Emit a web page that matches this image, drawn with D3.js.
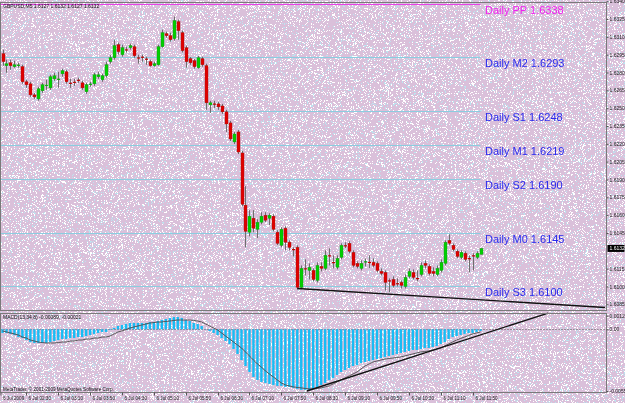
<!DOCTYPE html>
<html><head><meta charset="utf-8">
<script src="https://cdn.jsdelivr.net/npm/d3@7"></script>
<style>
body{margin:0;background:#dac0da;overflow:hidden}
#wrap{position:relative;width:625px;height:403px}
#bg,#c{position:absolute;left:0;top:0}
</style>
</head><body><div id="wrap"><canvas id="bg" width="625" height="403"></canvas><svg id="c" width="625" height="403"></svg></div>
<script>
// ---------- DATA ----------
const symbolTitle = "GBPUSD,M5  1.6127 1.6132 1.6127 1.6132";
const opens = [1.62958,1.62857,1.62882,1.62849,1.62857,1.62849,1.62722,1.62705,1.62612,1.62578,
1.62646,1.62688,1.62671,1.62747,1.62739,1.62789,1.62806,1.62713,1.62722,1.62739,
1.62713,1.62638,1.62697,1.62705,1.62764,1.62739,1.62773,1.62891,1.62924,1.63034,
1.62950,1.62992,1.63009,1.63017,1.62924,1.62933,1.62916,1.62891,1.62857,1.62865,
1.63017,1.63127,1.63110,1.63085,1.63228,1.63135,1.63009,1.62916,1.62899,1.62840,
1.62916,1.62857,1.62528,1.62536,1.62536,1.62519,1.62469,1.62376,1.62216,1.62300,
1.62123,1.61684,1.61456,1.61574,1.61481,1.61540,1.61599,1.61574,1.61591,1.61456,
1.61346,1.61490,1.61372,1.61312,1.61329,1.60992,1.61152,1.61135,1.61135,1.61051,
1.61169,1.61152,1.61262,1.61203,1.61161,1.61245,1.61346,1.61363,1.61287,1.61194,
1.61152,1.61203,1.61203,1.61203,1.61194,1.61127,1.61118,1.61051,1.61059,1.61025,
1.61034,1.61000,1.61085,1.61118,1.61068,1.61101,1.61194,1.61169,1.61127,1.61101,
1.61135,1.61194,1.61388,1.61346,1.61296,1.61245,1.61279,1.61236,1.61262,1.61245,
1.61270];
const highs = [1.62992,1.62908,1.62908,1.62899,1.62882,1.62865,1.62739,1.62722,1.62629,1.62680,
1.62713,1.62739,1.62781,1.62798,1.62806,1.62832,1.62823,1.62747,1.62747,1.62756,
1.62730,1.62713,1.62722,1.62798,1.62806,1.62789,1.62891,1.62950,1.63076,1.63051,
1.63034,1.63017,1.63043,1.63034,1.62950,1.62950,1.62933,1.62908,1.62891,1.63034,
1.63161,1.63144,1.63135,1.63271,1.63245,1.63152,1.63026,1.62933,1.62916,1.62941,
1.62933,1.62874,1.62562,1.62562,1.62553,1.62536,1.62486,1.62393,1.62300,1.62317,
1.62140,1.61844,1.61642,1.61642,1.61566,1.61625,1.61625,1.61616,1.61608,1.61473,
1.61498,1.61507,1.61388,1.61329,1.61346,1.61177,1.61228,1.61194,1.61152,1.61203,
1.61203,1.61304,1.61321,1.61262,1.61262,1.61363,1.61372,1.61380,1.61304,1.61211,
1.61220,1.61236,1.61262,1.61236,1.61211,1.61152,1.61135,1.61068,1.61085,1.61068,
1.61051,1.61101,1.61152,1.61144,1.61135,1.61203,1.61220,1.61186,1.61161,1.61177,
1.61228,1.61388,1.61439,1.61363,1.61312,1.61304,1.61296,1.61262,1.61279,1.61296,
1.61320];
const lows = [1.62857,1.62798,1.62823,1.62840,1.62840,1.62705,1.62671,1.62595,1.62578,1.62562,
1.62629,1.62654,1.62654,1.62730,1.62671,1.62764,1.62705,1.62671,1.62688,1.62713,
1.62654,1.62621,1.62680,1.62688,1.62747,1.62722,1.62756,1.62874,1.62908,1.62950,
1.62933,1.62967,1.62992,1.62924,1.62874,1.62891,1.62865,1.62849,1.62849,1.62857,
1.63009,1.63093,1.63060,1.63068,1.63076,1.62967,1.62840,1.62865,1.62832,1.62832,
1.62849,1.62486,1.62460,1.62502,1.62486,1.62452,1.62300,1.62224,1.62199,1.62114,
1.61675,1.61329,1.61422,1.61456,1.61405,1.61523,1.61540,1.61515,1.61464,1.61346,
1.61329,1.61304,1.61304,1.61253,1.60975,1.60983,1.61093,1.61059,1.61042,1.61034,
1.61127,1.61135,1.61177,1.61152,1.61144,1.61228,1.61321,1.61279,1.61161,1.61152,
1.61135,1.61169,1.61152,1.61161,1.61118,1.61093,1.60966,1.60950,1.60992,1.61000,
1.60983,1.60983,1.61068,1.61059,1.61042,1.61085,1.61152,1.61093,1.61085,1.61085,
1.61118,1.61177,1.61346,1.61296,1.61236,1.61228,1.61211,1.61118,1.61135,1.61228,
1.61270];
const closes = [1.62891,1.62874,1.62857,1.62865,1.62865,1.62722,1.62697,1.62612,1.62595,1.62663,
1.62697,1.62697,1.62764,1.62773,1.62747,1.62815,1.62722,1.62705,1.62713,1.62730,
1.62671,1.62697,1.62705,1.62781,1.62781,1.62773,1.62865,1.62924,1.63026,1.62975,
1.63009,1.62988,1.63026,1.62941,1.62920,1.62924,1.62908,1.62857,1.62874,1.63017,
1.63135,1.63110,1.63076,1.63237,1.63152,1.62984,1.62891,1.62882,1.62849,1.62924,
1.62865,1.62545,1.62545,1.62532,1.62511,1.62469,1.62367,1.62241,1.62283,1.62131,
1.61692,1.61464,1.61591,1.61490,1.61540,1.61591,1.61557,1.61599,1.61481,1.61363,
1.61481,1.61372,1.61329,1.61308,1.60992,1.61152,1.61144,1.61161,1.61059,1.61177,
1.61152,1.61262,1.61253,1.61198,1.61236,1.61346,1.61338,1.61296,1.61177,1.61169,
1.61194,1.61211,1.61200,1.61177,1.61135,1.61110,1.61034,1.61042,1.61009,1.61021,
1.61009,1.61076,1.61127,1.61076,1.61064,1.61177,1.61177,1.61110,1.61110,1.61152,
1.61203,1.61372,1.61363,1.61312,1.61253,1.61287,1.61228,1.61232,1.61253,1.61279,
1.61320];
const macdMain = [-0.00033,-0.00033,-0.00042,-0.00052,-0.00070,-0.00079,-0.00097,-0.00115,-0.00124,-0.00124,
-0.00124,-0.00124,-0.00115,-0.00106,-0.00097,-0.00088,-0.00088,-0.00079,-0.00079,-0.00070,
-0.00070,-0.00061,-0.00052,-0.00042,-0.00033,-0.00024,-0.00024,-0.00006,0.00012,0.00030,
0.00039,0.00048,0.00057,0.00057,0.00057,0.00057,0.00057,0.00066,0.00066,0.00075,
0.00084,0.00093,0.00102,0.00111,0.00111,0.00102,0.00084,0.00075,0.00057,0.00048,
0.00030,0.00003,-0.00015,-0.00033,-0.00052,-0.00079,-0.00106,-0.00133,-0.00178,-0.00223,
-0.00278,-0.00332,-0.00386,-0.00431,-0.00458,-0.00476,-0.00485,-0.00494,-0.00503,-0.00512,
-0.00512,-0.00521,-0.00521,-0.00530,-0.00539,-0.00548,-0.00548,-0.00548,-0.00539,-0.00521,
-0.00503,-0.00485,-0.00458,-0.00440,-0.00413,-0.00386,-0.00368,-0.00350,-0.00332,-0.00323,
-0.00305,-0.00296,-0.00287,-0.00278,-0.00269,-0.00260,-0.00250,-0.00241,-0.00232,-0.00223,
-0.00214,-0.00205,-0.00196,-0.00187,-0.00187,-0.00178,-0.00169,-0.00169,-0.00160,-0.00151,
-0.00133,-0.00115,-0.00088,-0.00070,-0.00061,-0.00052,-0.00042,-0.00033,-0.00033,-0.00024,
-0.00015];
const macdSignal = [-0.00015,-0.00024,-0.00033,-0.00042,-0.00052,-0.00070,-0.00079,-0.00097,-0.00106,-0.00115,
-0.00120,-0.00124,-0.00124,-0.00124,-0.00120,-0.00115,-0.00115,-0.00106,-0.00106,-0.00097,
-0.00097,-0.00088,-0.00088,-0.00079,-0.00079,-0.00070,-0.00070,-0.00061,-0.00042,-0.00024,
-0.00015,-0.00002,0.00012,0.00021,0.00030,0.00039,0.00048,0.00057,0.00061,0.00066,
0.00066,0.00071,0.00075,0.00080,0.00084,0.00084,0.00084,0.00084,0.00080,0.00075,
0.00066,0.00048,0.00030,0.00012,-0.00006,-0.00033,-0.00061,-0.00088,-0.00115,-0.00142,
-0.00169,-0.00205,-0.00241,-0.00278,-0.00314,-0.00341,-0.00377,-0.00404,-0.00431,-0.00458,
-0.00485,-0.00503,-0.00512,-0.00521,-0.00526,-0.00530,-0.00535,-0.00539,-0.00539,-0.00535,
-0.00530,-0.00521,-0.00512,-0.00494,-0.00476,-0.00458,-0.00440,-0.00422,-0.00404,-0.00386,
-0.00359,-0.00332,-0.00314,-0.00296,-0.00287,-0.00278,-0.00269,-0.00264,-0.00260,-0.00255,
-0.00250,-0.00241,-0.00232,-0.00223,-0.00214,-0.00205,-0.00201,-0.00196,-0.00187,-0.00178,
-0.00169,-0.00151,-0.00133,-0.00115,-0.00097,-0.00083,-0.00070,-0.00056,-0.00042,-0.00033,
-0.00024];
const macdTitle = "MACD(13,34,8) -0.00089, -0.00021";
const macdAxisValues = [0.00123, 0, -0.00558];
const macdAxisLabels = ["0.00123", "0.00", "-0.00558"];
const priceTicks = [1.6340,1.6325,1.6310,1.6295,1.6280,1.6265,1.6250,1.6235,1.6220,1.6205,1.6190,1.6175,1.6160,1.6145,1.6115,1.6100,1.6085];
const lastPrice = 1.6132;
const pivotNames = ["Daily PP","Daily M2","Daily S1","Daily M1","Daily S2","Daily M0","Daily S3"];
const pivotValues = [1.6338,1.6293,1.6248,1.6219,1.6190,1.6145,1.6100];
const timeLabelBars = [0,6,14,22,30,38,46,54,62,70,78,86,94,102,110,118];
const timeLabels = ["6 Jul 2009","6 Jul 02:30","6 Jul 03:10","6 Jul 03:50","6 Jul 04:30","6 Jul 05:10","6 Jul 05:50","6 Jul 06:30","6 Jul 07:10","6 Jul 07:50","6 Jul 08:30","6 Jul 09:10","6 Jul 09:50","6 Jul 10:30","6 Jul 11:10","6 Jul 11:50"];
const priceTrendBars = [74, 151.3];
const priceTrendValues = [1.60983, 1.60823];
const macdTrendBars = [76.4, 137];
const macdTrendValues = [-0.00558, 0.00147];
const copyright = "MetaTrader, \u00A9 2001-2009 MetaQuotes Software Corp.";

// ---------- BACKGROUND TEXTURE (deterministic speckle) ----------
(function(){
  const cv = document.getElementById('bg'), ctx = cv.getContext('2d');
  const img = ctx.createImageData(625,403), d = img.data;
  function h(x,y){let n=Math.imul(x,374761393)+Math.imul(y,668265263);n=Math.imul(n^(n>>>13),1274126177);n=n^(n>>>16);return (n>>>0)/4294967296;}
  for(let y=0;y<403;y++)for(let x=0;x<625;x++){
    const v=h(x,y), k=(y*625+x)*4; let r=218,g=192,b=218;
    if(v<0.16){r=255;g=255;b=255;} else if(v<0.23){r=188;g=228;b=240;}
    d[k]=r;d[k+1]=g;d[k+2]=b;d[k+3]=255;
  }
  ctx.putImageData(img,0,0);
})();

// ---------- LAYOUT ----------
const svg = d3.select('#c');
const L = 0.5, R = 606.5, mainTop = 2.5, mainBot = 310.5, macdTop = 313.5, macdBot = 392.5;
const x = d3.scaleLinear().domain([0,120]).range([2.5,480.5]);
const y = d3.scaleLinear().domain([1.6085,1.6340]).range([304.3,1.2]);
const ym = d3.scaleLinear().domain([-0.00558,0.00123]).range([391,315.7]);
const n = closes.length;
const ft = 'Liberation Sans, Arial, sans-serif';

// pivot lines
const piv = svg.append('g');
pivotValues.forEach((v,i)=>{
  const yy = Math.round(y(v))+0.5;
  piv.append('line').attr('x1',L).attr('x2',x(n-1)).attr('y1',yy).attr('y2',yy)
    .attr('stroke', i===0 ? '#e640e6' : '#8cccdf').attr('stroke-width',1);
  piv.append('text').attr('x',485).attr('y',y(v)+10)
    .attr('font-family',ft).attr('font-size',11)
    .attr('fill', i===0 ? '#f020f0' : '#2a2aee').text(pivotNames[i]+' '+v.toFixed(4));
});

// candles
const cg = svg.append('g');
for(let i=0;i<n;i++){
  const cx = Math.round(x(i))+0.5;
  cg.append('line').attr('x1',cx).attr('x2',cx).attr('y1',y(highs[i])).attr('y2',y(lows[i]))
    .attr('stroke','#6e6e6e').attr('stroke-width',1);
  const top = y(Math.max(opens[i],closes[i])), bot = y(Math.min(opens[i],closes[i]));
  const up = closes[i] >= opens[i];
  if(bot-top < 1.2){
    cg.append('line').attr('x1',cx-1.5).attr('x2',cx+1.5).attr('y1',(top+bot)/2).attr('y2',(top+bot)/2)
      .attr('stroke',up?'#00b000':'#c00000').attr('stroke-width',1.2);
  } else {
    cg.append('rect').attr('x',cx-1.5).attr('y',top).attr('width',3).attr('height',bot-top)
      .attr('fill',up?'#00d000':'#e00000').attr('stroke',up?'#189018':'#a01010').attr('stroke-width',0.4);
  }
}

// price trendline
svg.append('line').attr('x1',x(priceTrendBars[0])).attr('y1',y(priceTrendValues[0]))
  .attr('x2',x(priceTrendBars[1])).attr('y2',y(priceTrendValues[1]))
  .attr('stroke','#111').attr('stroke-width',1.4);

// MACD zero line
svg.append('line').attr('x1',L).attr('x2',R).attr('y1',Math.round(ym(0))+0.5).attr('y2',Math.round(ym(0))+0.5)
  .attr('stroke','#555').attr('stroke-dasharray','1,2');

// MACD histogram
const hg = svg.append('g');
macdMain.forEach((v,i)=>{
  const y0 = ym(0), y1 = ym(v);
  hg.append('rect').attr('x',x(i)-1.2).attr('width',2.4)
    .attr('y',Math.min(y0,y1)).attr('height',Math.abs(y1-y0))
    .attr('fill','#18bcf4');
});
// MACD signal
svg.append('path').datum(macdSignal)
  .attr('d', d3.line().x((d,i)=>x(i)).y(d=>ym(d)))
  .attr('fill','none').attr('stroke','#4a4a4a').attr('stroke-width',0.9);
// MACD trendline
svg.append('line').attr('x1',x(macdTrendBars[0])).attr('y1',ym(macdTrendValues[0]))
  .attr('x2',x(macdTrendBars[1])).attr('y2',ym(macdTrendValues[1]))
  .attr('stroke','#111').attr('stroke-width',1.4);

// frames
const fr = svg.append('g').attr('fill','none').attr('stroke','#7a7a7a').attr('stroke-width',1);
fr.append('rect').attr('x',L).attr('y',mainTop).attr('width',R-L).attr('height',mainBot-mainTop);
fr.append('rect').attr('x',L).attr('y',macdTop).attr('width',R-L).attr('height',macdBot-macdTop);

// right price axis
const yAxis = d3.axisRight(y).tickValues(priceTicks).tickFormat(d3.format('.4f')).tickSize(2).tickPadding(1);
const ga = svg.append('g').attr('transform',`translate(${R},0)`).call(yAxis);
ga.select('.domain').remove();
ga.selectAll('line').attr('stroke','#555');
ga.selectAll('text').attr('font-family',ft).attr('font-size',5).attr('fill','#222');
// last price box
svg.append('rect').attr('x',R+1).attr('y',y(lastPrice)-3.5).attr('width',17).attr('height',7).attr('fill','#000');
svg.append('text').attr('x',R+3).attr('y',y(lastPrice)+1.8).attr('font-family',ft)
  .attr('font-size',5).attr('fill','#fff').text(lastPrice.toFixed(4));

// MACD axis
const mAxis = d3.axisRight(ym).tickValues(macdAxisValues).tickFormat((d,i)=>macdAxisLabels[i]).tickSize(2).tickPadding(1);
const gm = svg.append('g').attr('transform',`translate(${R},0)`).call(mAxis);
gm.select('.domain').remove();
gm.selectAll('line').attr('stroke','#555');
gm.selectAll('text').attr('font-family',ft).attr('font-size',5).attr('fill','#222');

// time axis
const tg = svg.append('g');
timeLabelBars.forEach((b,i)=>{
  const tx = i===0 ? 1 : Math.round(x(b))+0.5;
  tg.append('line').attr('x1',tx).attr('x2',tx).attr('y1',macdBot).attr('y2',macdBot+3).attr('stroke','#555');
  tg.append('text').attr('x',tx+2).attr('y',399.5).attr('font-family',ft)
    .attr('font-size',4.6).attr('fill','#222').text(timeLabels[i]);
});

// titles
svg.append('text').attr('x',3).attr('y',7.5).attr('font-family',ft).attr('font-size',5).attr('fill','#111').text(symbolTitle);
svg.append('text').attr('x',3).attr('y',318.8).attr('font-family',ft).attr('font-size',5).attr('fill','#111').text(macdTitle);
svg.append('text').attr('x',3).attr('y',391).attr('font-family',ft).attr('font-size',4.6).attr('fill','#111').text(copyright);
</script>
</body></html>
